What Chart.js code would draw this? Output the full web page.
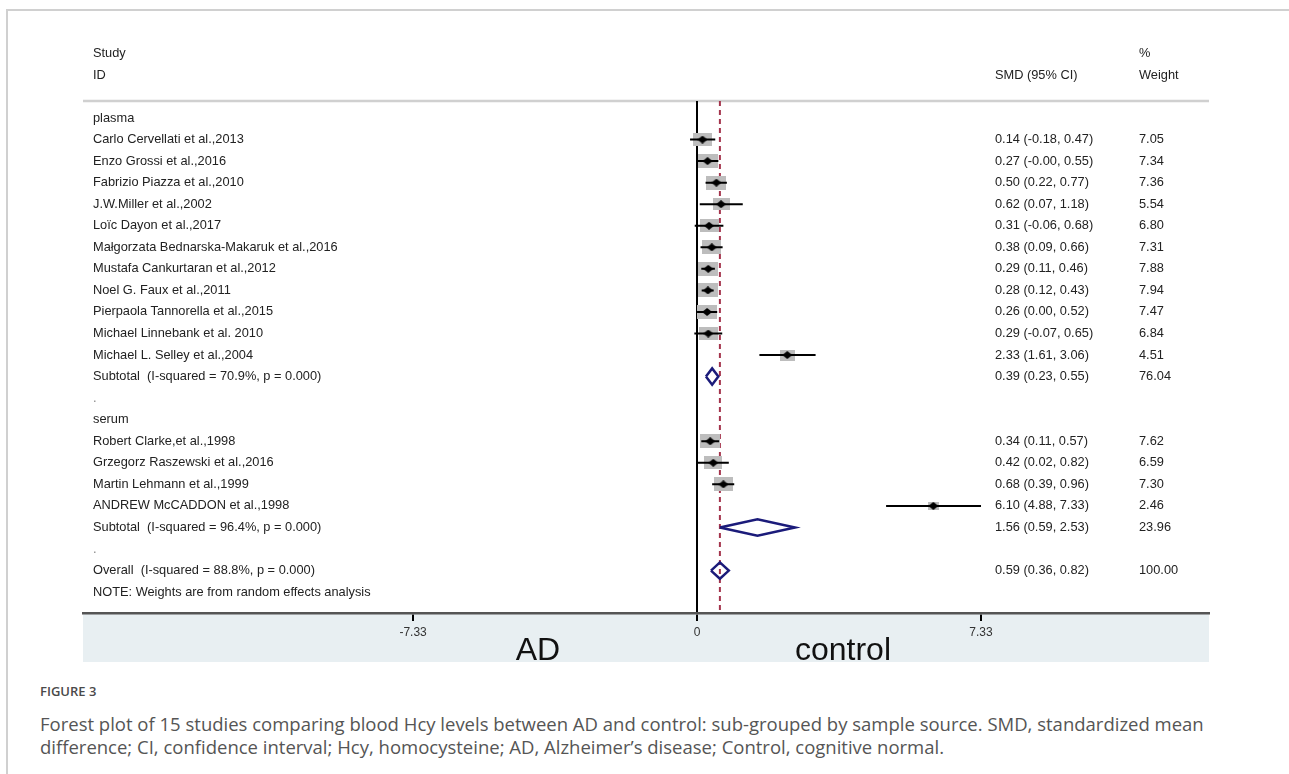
<!DOCTYPE html>
<html>
<head>
<meta charset="utf-8">
<script src="https://cdn.jsdelivr.net/npm/chart.js@4.4.1/dist/chart.umd.min.js"></script>
<style>
  body { margin: 0; background: #fff; width: 1289px; height: 774px; overflow: hidden; position: relative; }
  #frame { position: absolute; left: 6px; top: 9px; right: -4px; bottom: -4px; border-top: 2px solid #d0d0d0; border-left: 2px solid #d0d0d0; }
  #chart { position: absolute; left: 0; top: 0; }
  .fig { position: absolute; left: 40px; top: 682px; font: 600 13px/18px "Open Sans", sans-serif; color: #4a4a4a; }
  .cap { position: absolute; left: 40px; top: 712px; font: 18.5px/23px "Open Sans", sans-serif; color: #555; white-space: nowrap; }
</style>
</head>
<body>
<div id="frame"></div>
<canvas id="chart" width="1289" height="680"></canvas>
<div class="fig">FIGURE 3</div>
<div class="cap">Forest plot of 15 studies comparing blood Hcy levels between AD and control: sub-grouped by sample source. SMD, standardized mean<br>difference; CI, confidence interval; Hcy, homocysteine; AD, Alzheimer’s disease; Control, cognitive normal.</div>
<script>
// forest plot data (SMD with 95% CI, random effects weights)
const groupNames = ['plasma', 'serum'];

const plasmaStudies = [
  'Carlo Cervellati et al.,2013',
  'Enzo Grossi et al.,2016',
  'Fabrizio Piazza et al.,2010',
  'J.W.Miller et al.,2002',
  'Loïc Dayon et al.,2017',
  'Małgorzata Bednarska-Makaruk et al.,2016',
  'Mustafa Cankurtaran et al.,2012',
  'Noel G. Faux et al.,2011',
  'Pierpaola Tannorella et al.,2015',
  'Michael Linnebank et al. 2010',
  'Michael L. Selley et al.,2004'
];
const plasmaSmd    = [0.14, 0.27, 0.50, 0.62, 0.31, 0.38, 0.29, 0.28, 0.26, 0.29, 2.33];
const plasmaLow    = [-0.18, -0.00, 0.22, 0.07, -0.06, 0.09, 0.11, 0.12, 0.00, -0.07, 1.61];
const plasmaHigh   = [0.47, 0.55, 0.77, 1.18, 0.68, 0.66, 0.46, 0.43, 0.52, 0.65, 3.06];
const plasmaWeight = [7.05, 7.34, 7.36, 5.54, 6.80, 7.31, 7.88, 7.94, 7.47, 6.84, 4.51];

const serumStudies = [
  'Robert Clarke,et al.,1998',
  'Grzegorz Raszewski et al.,2016',
  'Martin Lehmann et al.,1999',
  'ANDREW McCADDON et al.,1998'
];
const serumSmd    = [0.34, 0.42, 0.68, 6.10];
const serumLow    = [0.11, 0.02, 0.39, 4.88];
const serumHigh   = [0.57, 0.82, 0.96, 7.33];
const serumWeight = [7.62, 6.59, 7.30, 2.46];

const subtotalLabels = ['Subtotal  (I-squared = 70.9%, p = 0.000)', 'Subtotal  (I-squared = 96.4%, p = 0.000)'];
const subtotalSmd    = [0.39, 1.56];
const subtotalLow    = [0.23, 0.59];
const subtotalHigh   = [0.55, 2.53];
const subtotalWeight = [76.04, 23.96];

const overallLabel  = 'Overall  (I-squared = 88.8%, p = 0.000)';
const overallSmd    = 0.59;
const overallLow    = 0.36;
const overallHigh   = 0.82;
const overallWeight = 100.00;

const noteText = 'NOTE: Weights are from random effects analysis';
const xTicks = [-7.33, 0, 7.33];

// axis range so that 0 sits under the "0" tick and the table fills the width
const X_MIN = -15.85, X_MAX = 13.215;
const Y_MIN = -0.79, Y_MAX = 22.97;
const DIAMOND_HALF = 0.38;
const FONT = '"Liberation Sans", Arial, sans-serif';

// build the table rows
const rows = [];
function addRow(label, kind, est, lo, hi, w) {
  rows.push({ label, kind, est, lo, hi, w });
}
addRow(groupNames[0], 'group');
plasmaStudies.forEach((s, i) => addRow(s, 'study', plasmaSmd[i], plasmaLow[i], plasmaHigh[i], plasmaWeight[i]));
addRow(subtotalLabels[0], 'pooled', subtotalSmd[0], subtotalLow[0], subtotalHigh[0], subtotalWeight[0]);
addRow('.', 'gap');
addRow(groupNames[1], 'group');
serumStudies.forEach((s, i) => addRow(s, 'study', serumSmd[i], serumLow[i], serumHigh[i], serumWeight[i]));
addRow(subtotalLabels[1], 'pooled', subtotalSmd[1], subtotalLow[1], subtotalHigh[1], subtotalWeight[1]);
addRow('.', 'gap');
addRow(overallLabel, 'pooled', overallSmd, overallLow, overallHigh, overallWeight);
addRow(noteText, 'note');

function fmt(v) {
  return (Object.is(v, -0) ? '-' : '') + v.toFixed(2);
}

// gray weight box, area grows with the weight
function boxImage(w) {
  const c = document.createElement('canvas');
  c.width = Math.round(7.2 * Math.sqrt(w));
  c.height = Math.round(5 * Math.sqrt(w));
  const g = c.getContext('2d');
  g.fillStyle = '#bdbdbd';
  g.fillRect(0, 0, c.width, c.height);
  return c;
}
// small black diamond for the point estimate
function diamondImage() {
  const c = document.createElement('canvas');
  c.width = 10; c.height = 8;
  const g = c.getContext('2d');
  g.fillStyle = '#000';
  g.beginPath();
  g.moveTo(0, 4); g.lineTo(5, 0); g.lineTo(10, 4); g.lineTo(5, 8); g.closePath();
  g.fill();
  return c;
}
const marker = diamondImage();

const studyRows = [];
const ciSegments = [];
rows.forEach((r, i) => {
  if (r.kind === 'study') {
    studyRows.push({ x: r.est, y: i, w: r.w });
    ciSegments.push({ x: r.lo, y: i }, { x: r.hi, y: i }, { x: r.hi, y: null });
  }
});

const datasets = [
  {
    // overall effect reference line
    data: [{ x: overallSmd, y: Y_MIN }, { x: overallSmd, y: Y_MAX }],
    showLine: true, borderColor: '#a4344c', borderWidth: 2, borderDash: [5, 4],
    pointRadius: 0, order: 5
  },
  {
    data: studyRows.map(p => ({ x: p.x, y: p.y })),
    pointStyle: studyRows.map(p => boxImage(p.w)),
    pointRadius: 5, order: 4
  },
  {
    data: ciSegments,
    showLine: true, spanGaps: false, borderColor: '#000', borderWidth: 2,
    pointRadius: 0, order: 3
  },
  {
    data: studyRows.map(p => ({ x: p.x, y: p.y })),
    pointStyle: marker, pointRadius: 5, order: 2
  }
];
rows.forEach((r, i) => {
  if (r.kind !== 'pooled') return;
  datasets.push({
    data: [
      { x: r.lo, y: i }, { x: r.est, y: i - DIAMOND_HALF },
      { x: r.hi, y: i }, { x: r.est, y: i + DIAMOND_HALF }, { x: r.lo, y: i }
    ],
    showLine: true, borderColor: '#1b1b7a', borderWidth: 2.5, borderJoinStyle: 'miter',
    pointRadius: 0, order: 1
  });
});

function text(ctx, s, x, y, size, align, color) {
  ctx.font = size + 'px ' + FONT;
  ctx.textAlign = align || 'left';
  ctx.textBaseline = 'middle';
  ctx.fillStyle = color || '#222';
  ctx.fillText(s, x, y);
}

const forestTable = {
  id: 'forestTable',
  beforeDraw(chart) {
    const { ctx, chartArea } = chart;
    ctx.save();
    ctx.fillStyle = '#e8eff2';
    ctx.fillRect(chartArea.left, chartArea.bottom, chartArea.right - chartArea.left, 49);
    ctx.strokeStyle = '#d0d0d0';
    ctx.lineWidth = 2.5;
    ctx.beginPath();
    ctx.moveTo(chartArea.left, chartArea.top);
    ctx.lineTo(chartArea.right, chartArea.top);
    ctx.stroke();
    ctx.restore();
  },
  afterDraw(chart) {
    const { ctx, chartArea } = chart;
    const yScale = chart.scales.y;
    const colLabel = chartArea.left + 10;
    const colSmd = 995, colWeight = 1139;
    ctx.save();
    text(ctx, 'Study', colLabel, 53, 12.8);
    text(ctx, 'ID', colLabel, 75, 12.8);
    text(ctx, '%', colWeight, 53, 12.8);
    text(ctx, 'SMD (95% CI)', colSmd, 75, 12.8);
    text(ctx, 'Weight', colWeight, 75, 12.8);
    rows.forEach((r, i) => {
      const y = yScale.getPixelForValue(i);
      text(ctx, r.label, colLabel, y, 12.8, 'left', r.kind === 'gap' ? '#888' : '#222');
      if (r.kind === 'study' || r.kind === 'pooled') {
        text(ctx, r.est.toFixed(2) + ' (' + fmt(r.lo) + ', ' + fmt(r.hi) + ')', colSmd, y, 12.8);
        text(ctx, r.w.toFixed(2), colWeight, y, 12.8);
      }
    });
    text(ctx, 'AD', 538, 651, 32, 'center', '#111');
    text(ctx, 'control', 843, 651, 32, 'center', '#111');
    ctx.restore();
  }
};

new Chart(document.getElementById('chart'), {
  type: 'scatter',
  data: { datasets },
  options: {
    responsive: false,
    animation: false,
    events: [],
    layout: { padding: { left: 83, right: 80, top: 101, bottom: 18 } },
    plugins: { legend: { display: false }, tooltip: { enabled: false } },
    scales: {
      x: {
        type: 'linear', min: X_MIN, max: X_MAX,
        afterBuildTicks: s => { s.ticks = xTicks.map(v => ({ value: v })); },
        afterFit: s => { s.height = 49; },
        grid: {
          color: c => (c.tick && c.tick.value === 0 ? '#000' : 'rgba(0,0,0,0)'),
          lineWidth: 2, tickColor: '#000', tickLength: 8, tickWidth: 2
        },
        border: { display: true, color: '#555', width: 2.5 },
        ticks: {
          color: '#333', padding: 4, maxRotation: 0, autoSkip: false,
          font: { family: FONT, size: 12 },
          callback: v => (v === 0 ? '0' : v.toFixed(2))
        }
      },
      y: { type: 'linear', display: false, reverse: true, min: Y_MIN, max: Y_MAX }
    }
  },
  plugins: [forestTable]
});
</script>
</body>
</html>
